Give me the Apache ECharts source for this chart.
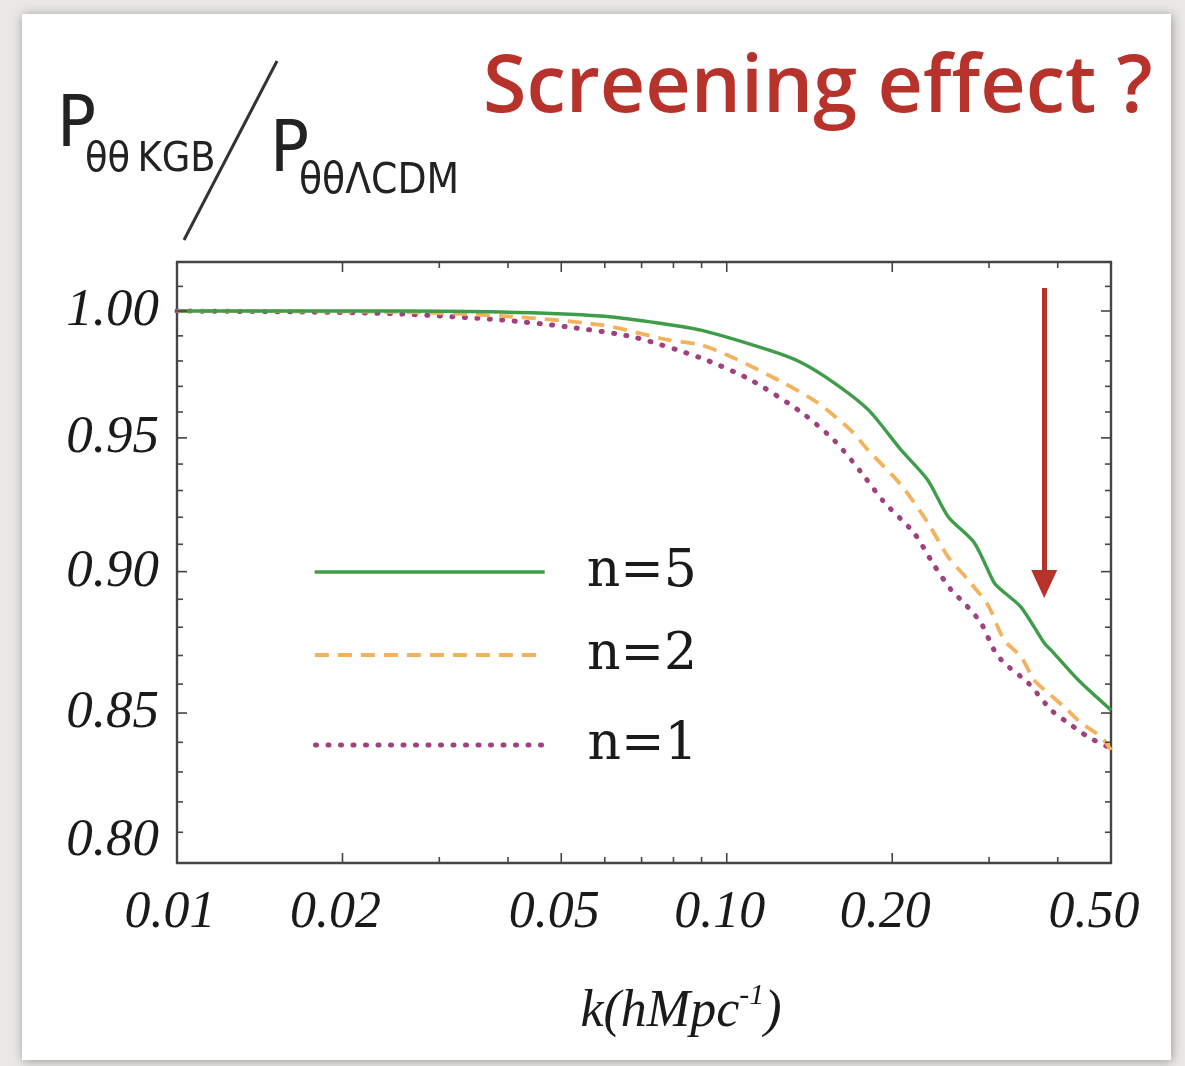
<!DOCTYPE html>
<html><head><meta charset="utf-8">
<script src="https://cdn.jsdelivr.net/npm/echarts@6/dist/echarts.min.js"></script>
<style>html,body{margin:0;padding:0;background:#e9e8e6}#c{width:1185px;height:1066px}</style>
</head><body><div id="c"></div>
<script>
// ---- axis ranges & ticks ----
const X_MIN = 0.01, X_MAX = 0.5, Y_MIN = 0.80, Y_MAX = 1.02;
const xMajorTicks = [0.01, 0.02, 0.05, 0.1, 0.2, 0.5];
const xMajorLabels = ['0.01', '0.02', '0.05', '0.10', '0.20', '0.50'];
const xMinorTicks = [0.03, 0.04, 0.06, 0.07, 0.08, 0.09, 0.3, 0.4];
const yMajorTicks = [0.80, 0.85, 0.90, 0.95, 1.00];
const yMajorLabels = ['0.80', '0.85', '0.90', '0.95', '1.00'];
const yMinorTicks = [0.81, 0.82, 0.83, 0.84, 0.86, 0.87, 0.88, 0.89, 0.91, 0.92, 0.93, 0.94, 0.96, 0.97, 0.98, 0.99, 1.01];

// ---- series ----
const seriesNames = ['n=5', 'n=2', 'n=1'];
const kN5 = [0.01, 0.0255, 0.0388, 0.059, 0.0727, 0.0897, 0.119, 0.136, 0.157, 0.181, 0.2075, 0.232, 0.253, 0.282, 0.3064, 0.3156, 0.343, 0.378, 0.389, 0.436, 0.5];
const ratioN5 = [1.000, 1.000, 0.9996, 0.9980, 0.9956, 0.9923, 0.9844, 0.9796, 0.9713, 0.9608, 0.9454, 0.9340, 0.9201, 0.9106, 0.8960, 0.8934, 0.8872, 0.8744, 0.8719, 0.8614, 0.8510];
const kN2 = [0.01, 0.0255, 0.0388, 0.059, 0.0781, 0.0897, 0.103, 0.127, 0.1465, 0.168, 0.1806, 0.2075, 0.2323, 0.2527, 0.2748, 0.2987, 0.3195, 0.3431, 0.3624, 0.3843, 0.411, 0.4414, 0.4799, 0.5];
const ratioN2 = [1.000, 0.9996, 0.9980, 0.9944, 0.9884, 0.9864, 0.9812, 0.9713, 0.9635, 0.9530, 0.9454, 0.9321, 0.9179, 0.9054, 0.8970, 0.8879, 0.8755, 0.8695, 0.8614, 0.8569, 0.8521, 0.8466, 0.8418, 0.8374];
const kN1 = [0.01, 0.0168, 0.0255, 0.0388, 0.0513, 0.0677, 0.0897, 0.1106, 0.1364, 0.1566, 0.1754, 0.1932, 0.2191, 0.2382, 0.2559, 0.2702, 0.2901, 0.3064, 0.3195, 0.3534, 0.3892, 0.418, 0.4546, 0.4943, 0.5];
const ratioN1 = [1.000, 0.9996, 0.9988, 0.9964, 0.9936, 0.9895, 0.9812, 0.9725, 0.9600, 0.9492, 0.9370, 0.9257, 0.9142, 0.9024, 0.8934, 0.8887, 0.8815, 0.8719, 0.8674, 0.8604, 0.8510, 0.8466, 0.8418, 0.8384, 0.8378];

// ---- annotation arrow (data coords) ----
const arrowK = 0.378, arrowTop = 1.0093, arrowEnd = 0.8955;

const zip = (a, b) => a.map((v, i) => [v, b[i]]);
const FRAME = '#454545';
const SERIF = "'Liberation Serif', 'Times New Roman', serif";
const NARROW = "'Liberation Sans Narrow', 'DejaVu Sans Condensed', 'Liberation Sans', sans-serif";

const xTickList = xMajorTicks.map((v, i) => ({v, major: true, label: xMajorLabels[i]}))
  .concat(xMinorTicks.map(v => ({v, major: false})));
const yTickList = yMajorTicks.map((v, i) => ({v, major: true, label: yMajorLabels[i]}))
  .concat(yMinorTicks.map(v => ({v, major: false})));

const chart = echarts.init(document.getElementById('c'), null, {renderer: 'canvas'});

const lineStyles = [
  {color: '#3f9d4a', width: 3.4, type: 'solid'},
  {color: '#f5b25c', width: 3.8, type: [14, 9]},
  {color: '#a0407f', width: 5, type: [1, 11.5], cap: 'round'}
];
const datasets = [zip(kN5, ratioN5), zip(kN2, ratioN2), zip(kN1, ratioN1)];
const legendCenters = [572, 655, 745];

const tickStyle = {stroke: FRAME, lineWidth: 1.6};

const option = {
  animation: false,
  backgroundColor: '#e9e8e6',
  grid: {left: 177, top: 262, right: 74, bottom: 203, containLabel: false},
  xAxis: [
    {type: 'log', logBase: 10, min: X_MIN, max: X_MAX, position: 'bottom',
     axisLine: {show: true, lineStyle: {color: FRAME, width: 2.4}}, axisTick: {show: false},
     axisLabel: {show: false}, splitLine: {show: false}, minorTick: {show: false}},
    {type: 'log', logBase: 10, min: X_MIN, max: X_MAX, position: 'top',
     axisLine: {show: true, lineStyle: {color: FRAME, width: 2.4}}, axisTick: {show: false},
     axisLabel: {show: false}, splitLine: {show: false}}
  ],
  yAxis: [
    {type: 'log', logBase: 10, min: Y_MIN, max: Y_MAX, position: 'left',
     axisLine: {show: true, lineStyle: {color: FRAME, width: 2.4}}, axisTick: {show: false},
     axisLabel: {show: false}, splitLine: {show: false}},
    {type: 'log', logBase: 10, min: Y_MIN, max: Y_MAX, position: 'right',
     axisLine: {show: true, lineStyle: {color: FRAME, width: 2.4}}, axisTick: {show: false},
     axisLabel: {show: false}, splitLine: {show: false}}
  ],
  legend: seriesNames.map((name, i) => ({
    data: [name], orient: 'vertical', left: 308, top: legendCenters[i] - 35,
    itemWidth: 230, itemHeight: 20, selectedMode: false,
    itemStyle: {opacity: 0, borderWidth: 0},
    lineStyle: {width: lineStyles[i].width, type: lineStyles[i].type, cap: lineStyles[i].cap || 'butt', color: lineStyles[i].color},
    textStyle: {fontFamily: "'DejaVu Serif', serif", fontSize: 52, color: '#1a1a1a', lineHeight: 60, padding: [0, 0, 0, 37]}
  })),
  graphic: [
    {type: 'rect', z: -10, silent: true, shape: {x: 22, y: 14, width: 1149, height: 1046},
     style: {fill: '#ffffff', shadowBlur: 10, shadowColor: 'rgba(0,0,0,0.35)', shadowOffsetX: 1, shadowOffsetY: 1}},
    {type: 'text', left: 483, top: 50, style: {text: 'Screening effect ?', fill: '#b8322c',
      font: "600 79px 'Open Sans', 'Noto Sans', sans-serif"}},
    {type: 'text', x: 57, y: 127, style: {text: 'P', fill: '#222', fontFamily: NARROW, fontSize: 72, verticalAlign: 'middle'}},
    {type: 'text', x: 85, y: 160, style: {text: 'θθ\u2009KGB', fill: '#222', fontFamily: NARROW, fontSize: 41, verticalAlign: 'middle'}},
    {type: 'line', shape: {x1: 277, y1: 61, x2: 184, y2: 240}, style: {stroke: '#333', lineWidth: 3}},
    {type: 'text', x: 270, y: 152, style: {text: 'P', fill: '#222', fontFamily: NARROW, fontSize: 72, verticalAlign: 'middle'}},
    {type: 'text', x: 299, y: 182, style: {text: 'θθΛCDM', fill: '#222', fontFamily: NARROW, fontSize: 42, verticalAlign: 'middle'}},
    {type: 'text', x: 681, y: 1012, style: {
      text: '{a|k(hMpc}{s|-1}{a|)}', align: 'center', verticalAlign: 'middle',
      rich: {
        a: {fontFamily: SERIF, fontStyle: 'italic', fontSize: 52, lineHeight: 62, fill: '#1a1a1a'},
        s: {fontFamily: SERIF, fontStyle: 'italic', fontSize: 30, lineHeight: 30, verticalAlign: 'top', fill: '#1a1a1a'}
      }}}
  ],
  series: [
    ...seriesNames.map((name, i) => ({
      name, type: 'line', data: datasets[i], symbol: 'none', symbolSize: 0, smooth: 0.25,
      lineStyle: lineStyles[i], itemStyle: {color: lineStyles[i].color}, z: 3 - i + 2,
      markLine: i === 0 ? {
        silent: true, symbol: ['none', 'triangle'], symbolSize: [26, 28],
        lineStyle: {color: '#b8322c', width: 5, type: 'solid'}, label: {show: false},
        data: [[{coord: [arrowK, arrowTop]}, {coord: [arrowK, arrowEnd]}]]
      } : undefined
    })),
    {
      name: 'xticks', type: 'custom', coordinateSystem: 'cartesian2d', clip: false, silent: true,
      data: xTickList.map(t => [t.v, Y_MIN]), z: 10,
      renderItem(params, api) {
        const t = xTickList[params.dataIndex];
        const b = api.coord([t.v, Y_MIN]), top = api.coord([t.v, Y_MAX]);
        const right = api.coord([X_MAX, Y_MIN])[0];
        const len = t.major ? 10 : 6;
        const ch = [
          {type: 'line', shape: {x1: b[0], y1: b[1], x2: b[0], y2: b[1] - len}, style: tickStyle},
          {type: 'line', shape: {x1: top[0], y1: top[1], x2: top[0], y2: top[1] + len}, style: tickStyle}
        ];
        if (t.major) ch.push({type: 'text', x: Math.min(b[0] - 7, right - 17), y: b[1] + 50, style: {
          text: t.label, align: 'center', verticalAlign: 'middle', fontFamily: SERIF, fontStyle: 'italic', fontSize: 52, fill: '#1a1a1a'}});
        return {type: 'group', children: ch};
      }
    },
    {
      name: 'yticks', type: 'custom', coordinateSystem: 'cartesian2d', clip: false, silent: true,
      data: yTickList.map(t => [X_MIN, t.v]), z: 10,
      renderItem(params, api) {
        const t = yTickList[params.dataIndex];
        const l = api.coord([X_MIN, t.v]), r = api.coord([X_MAX, t.v]);
        const bottom = api.coord([X_MIN, Y_MIN])[1];
        const len = t.major ? 10 : 6;
        const ch = [
          {type: 'line', shape: {x1: l[0], y1: l[1], x2: l[0] + len, y2: l[1]}, style: tickStyle},
          {type: 'line', shape: {x1: r[0], y1: r[1], x2: r[0] - len, y2: r[1]}, style: tickStyle}
        ];
        if (t.major) ch.push({type: 'text', x: l[0] - 18, y: Math.min(l[1], bottom - 22), style: {
          text: t.label, align: 'right', verticalAlign: 'middle', fontFamily: SERIF, fontStyle: 'italic', fontSize: 53, fill: '#1a1a1a'}});
        return {type: 'group', children: ch};
      }
    }
  ]
};
chart.setOption(option);
</script></body></html>
